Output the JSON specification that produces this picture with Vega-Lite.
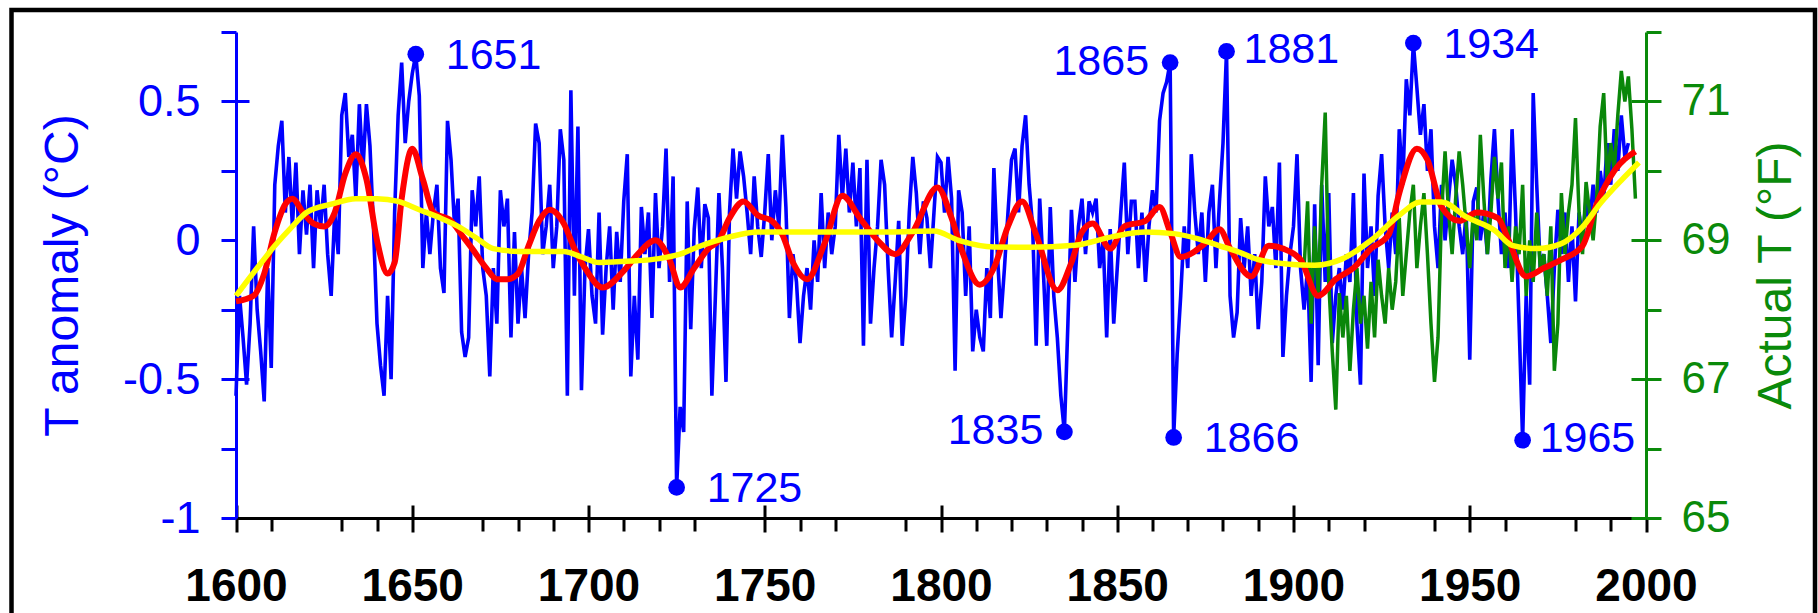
{
"$schema": "https://vega.github.io/schema/vega-lite/v6.json",
"width": 1803.5, "height": 620,
"autosize": {"type": "none"},
"padding": {"left": 11.5, "top": 10, "right": 3, "bottom": 0},
"background": "white",
"config": {"view": {"stroke": "black", "strokeWidth": 4.5, "fill": "white"}, "axis": {"grid": false}},
"datasets": {
"anom": [
{"year":1600,"anomaly":-0.56},{"year":1601,"anomaly":-0.20},{"year":1602,"anomaly":-0.35},{"year":1603,"anomaly":-0.52},{"year":1604,"anomaly":-0.30},{"year":1605,"anomaly":0.05},{"year":1606,"anomaly":-0.25},{"year":1607,"anomaly":-0.40},{"year":1608,"anomaly":-0.58},{"year":1609,"anomaly":-0.10},
{"year":1610,"anomaly":-0.46},{"year":1611,"anomaly":0.20},{"year":1612,"anomaly":0.34},{"year":1613,"anomaly":0.43},{"year":1614,"anomaly":0.10},{"year":1615,"anomaly":0.30},{"year":1616,"anomaly":0.05},{"year":1617,"anomaly":0.28},{"year":1618,"anomaly":-0.05},{"year":1619,"anomaly":0.18},
{"year":1620,"anomaly":0.02},{"year":1621,"anomaly":0.20},{"year":1622,"anomaly":-0.10},{"year":1623,"anomaly":0.18},{"year":1624,"anomaly":0.05},{"year":1625,"anomaly":0.20},{"year":1626,"anomaly":-0.05},{"year":1627,"anomaly":-0.20},{"year":1628,"anomaly":0.10},{"year":1629,"anomaly":-0.05},
{"year":1630,"anomaly":0.45},{"year":1631,"anomaly":0.53},{"year":1632,"anomaly":0.30},{"year":1633,"anomaly":0.38},{"year":1634,"anomaly":0.15},{"year":1635,"anomaly":0.49},{"year":1636,"anomaly":0.25},{"year":1637,"anomaly":0.49},{"year":1638,"anomaly":0.34},{"year":1639,"anomaly":0.05},
{"year":1640,"anomaly":-0.30},{"year":1641,"anomaly":-0.45},{"year":1642,"anomaly":-0.56},{"year":1643,"anomaly":-0.20},{"year":1644,"anomaly":-0.50},{"year":1645,"anomaly":0.10},{"year":1646,"anomaly":0.45},{"year":1647,"anomaly":0.64},{"year":1648,"anomaly":0.35},{"year":1649,"anomaly":0.50},
{"year":1650,"anomaly":0.60},{"year":1651,"anomaly":0.67},{"year":1652,"anomaly":0.52},{"year":1653,"anomaly":-0.10},{"year":1654,"anomaly":0.10},{"year":1655,"anomaly":-0.05},{"year":1656,"anomaly":0.10},{"year":1657,"anomaly":0.20},{"year":1658,"anomaly":-0.10},{"year":1659,"anomaly":-0.19},
{"year":1660,"anomaly":0.43},{"year":1661,"anomaly":0.29},{"year":1662,"anomaly":0.05},{"year":1663,"anomaly":0.15},{"year":1664,"anomaly":-0.33},{"year":1665,"anomaly":-0.42},{"year":1666,"anomaly":-0.35},{"year":1667,"anomaly":0.18},{"year":1668,"anomaly":0.05},{"year":1669,"anomaly":0.23},
{"year":1670,"anomaly":-0.10},{"year":1671,"anomaly":-0.20},{"year":1672,"anomaly":-0.49},{"year":1673,"anomaly":-0.10},{"year":1674,"anomaly":-0.30},{"year":1675,"anomaly":0.18},{"year":1676,"anomaly":0.05},{"year":1677,"anomaly":0.15},{"year":1678,"anomaly":-0.35},{"year":1679,"anomaly":0.03},
{"year":1680,"anomaly":-0.30},{"year":1681,"anomaly":-0.10},{"year":1682,"anomaly":-0.28},{"year":1683,"anomaly":-0.05},{"year":1684,"anomaly":0.10},{"year":1685,"anomaly":0.42},{"year":1686,"anomaly":0.35},{"year":1687,"anomaly":-0.05},{"year":1688,"anomaly":0.05},{"year":1689,"anomaly":0.20},
{"year":1690,"anomaly":-0.10},{"year":1691,"anomaly":0.05},{"year":1692,"anomaly":0.40},{"year":1693,"anomaly":0.29},{"year":1694,"anomaly":-0.56},{"year":1695,"anomaly":0.54},{"year":1696,"anomaly":-0.20},{"year":1697,"anomaly":0.41},{"year":1698,"anomaly":-0.54},{"year":1699,"anomaly":-0.10},
{"year":1700,"anomaly":0.04},{"year":1701,"anomaly":-0.20},{"year":1702,"anomaly":-0.30},{"year":1703,"anomaly":0.10},{"year":1704,"anomaly":-0.34},{"year":1705,"anomaly":-0.10},{"year":1706,"anomaly":0.05},{"year":1707,"anomaly":-0.25},{"year":1708,"anomaly":0.03},{"year":1709,"anomaly":-0.15},
{"year":1710,"anomaly":0.14},{"year":1711,"anomaly":0.31},{"year":1712,"anomaly":-0.49},{"year":1713,"anomaly":-0.20},{"year":1714,"anomaly":-0.43},{"year":1715,"anomaly":0.12},{"year":1716,"anomaly":-0.05},{"year":1717,"anomaly":0.10},{"year":1718,"anomaly":-0.28},{"year":1719,"anomaly":0.17},
{"year":1720,"anomaly":-0.10},{"year":1721,"anomaly":0.05},{"year":1722,"anomaly":0.33},{"year":1723,"anomaly":-0.15},{"year":1724,"anomaly":0.23},{"year":1725,"anomaly":-0.89},{"year":1726,"anomaly":-0.60},{"year":1727,"anomaly":-0.69},{"year":1728,"anomaly":0.14},{"year":1729,"anomaly":-0.32},
{"year":1730,"anomaly":0.04},{"year":1731,"anomaly":0.19},{"year":1732,"anomaly":-0.10},{"year":1733,"anomaly":0.13},{"year":1734,"anomaly":0.08},{"year":1735,"anomaly":-0.56},{"year":1736,"anomaly":-0.20},{"year":1737,"anomaly":0.17},{"year":1738,"anomaly":-0.10},{"year":1739,"anomaly":-0.51},
{"year":1740,"anomaly":0.10},{"year":1741,"anomaly":0.33},{"year":1742,"anomaly":0.15},{"year":1743,"anomaly":0.32},{"year":1744,"anomaly":0.23},{"year":1745,"anomaly":0.10},{"year":1746,"anomaly":-0.05},{"year":1747,"anomaly":0.23},{"year":1748,"anomaly":0.05},{"year":1749,"anomaly":-0.06},
{"year":1750,"anomaly":0.10},{"year":1751,"anomaly":0.31},{"year":1752,"anomaly":0.00},{"year":1753,"anomaly":0.18},{"year":1754,"anomaly":0.05},{"year":1755,"anomaly":0.38},{"year":1756,"anomaly":0.12},{"year":1757,"anomaly":-0.28},{"year":1758,"anomaly":-0.05},{"year":1759,"anomaly":-0.15},
{"year":1760,"anomaly":-0.37},{"year":1761,"anomaly":-0.20},{"year":1762,"anomaly":-0.10},{"year":1763,"anomaly":-0.25},{"year":1764,"anomaly":0.00},{"year":1765,"anomaly":-0.15},{"year":1766,"anomaly":0.17},{"year":1767,"anomaly":-0.10},{"year":1768,"anomaly":0.10},{"year":1769,"anomaly":-0.05},
{"year":1770,"anomaly":0.05},{"year":1771,"anomaly":0.38},{"year":1772,"anomaly":0.15},{"year":1773,"anomaly":0.33},{"year":1774,"anomaly":0.10},{"year":1775,"anomaly":0.28},{"year":1776,"anomaly":0.05},{"year":1777,"anomaly":0.26},{"year":1778,"anomaly":-0.38},{"year":1779,"anomaly":0.29},
{"year":1780,"anomaly":-0.30},{"year":1781,"anomaly":-0.10},{"year":1782,"anomaly":0.05},{"year":1783,"anomaly":0.29},{"year":1784,"anomaly":0.20},{"year":1785,"anomaly":-0.10},{"year":1786,"anomaly":-0.35},{"year":1787,"anomaly":-0.15},{"year":1788,"anomaly":0.07},{"year":1789,"anomaly":-0.38},
{"year":1790,"anomaly":-0.20},{"year":1791,"anomaly":0.10},{"year":1792,"anomaly":0.30},{"year":1793,"anomaly":0.17},{"year":1794,"anomaly":-0.05},{"year":1795,"anomaly":0.14},{"year":1796,"anomaly":0.08},{"year":1797,"anomaly":-0.10},{"year":1798,"anomaly":0.10},{"year":1799,"anomaly":0.30},
{"year":1800,"anomaly":0.28},{"year":1801,"anomaly":0.10},{"year":1802,"anomaly":0.30},{"year":1803,"anomaly":0.15},{"year":1804,"anomaly":-0.47},{"year":1805,"anomaly":0.18},{"year":1806,"anomaly":0.10},{"year":1807,"anomaly":-0.20},{"year":1808,"anomaly":0.05},{"year":1809,"anomaly":-0.40},
{"year":1810,"anomaly":-0.25},{"year":1811,"anomaly":-0.35},{"year":1812,"anomaly":-0.40},{"year":1813,"anomaly":-0.10},{"year":1814,"anomaly":-0.28},{"year":1815,"anomaly":0.26},{"year":1816,"anomaly":-0.05},{"year":1817,"anomaly":-0.28},{"year":1818,"anomaly":-0.10},{"year":1819,"anomaly":0.10},
{"year":1820,"anomaly":0.29},{"year":1821,"anomaly":0.33},{"year":1822,"anomaly":0.10},{"year":1823,"anomaly":0.34},{"year":1824,"anomaly":0.45},{"year":1825,"anomaly":0.20},{"year":1826,"anomaly":0.05},{"year":1827,"anomaly":-0.38},{"year":1828,"anomaly":0.15},{"year":1829,"anomaly":-0.10},
{"year":1830,"anomaly":-0.38},{"year":1831,"anomaly":0.12},{"year":1832,"anomaly":-0.20},{"year":1833,"anomaly":-0.35},{"year":1834,"anomaly":-0.56},{"year":1835,"anomaly":-0.69},{"year":1836,"anomaly":-0.30},{"year":1837,"anomaly":0.11},{"year":1838,"anomaly":-0.15},{"year":1839,"anomaly":0.05},
{"year":1840,"anomaly":0.15},{"year":1841,"anomaly":-0.05},{"year":1842,"anomaly":0.14},{"year":1843,"anomaly":0.10},{"year":1844,"anomaly":0.15},{"year":1845,"anomaly":-0.10},{"year":1846,"anomaly":0.00},{"year":1847,"anomaly":-0.35},{"year":1848,"anomaly":0.04},{"year":1849,"anomaly":-0.30},
{"year":1850,"anomaly":-0.10},{"year":1851,"anomaly":0.10},{"year":1852,"anomaly":0.28},{"year":1853,"anomaly":-0.05},{"year":1854,"anomaly":0.14},{"year":1855,"anomaly":0.14},{"year":1856,"anomaly":-0.10},{"year":1857,"anomaly":0.10},{"year":1858,"anomaly":-0.15},{"year":1859,"anomaly":0.05},
{"year":1860,"anomaly":0.18},{"year":1861,"anomaly":0.10},{"year":1862,"anomaly":0.43},{"year":1863,"anomaly":0.53},{"year":1864,"anomaly":0.57},{"year":1865,"anomaly":0.64},{"year":1866,"anomaly":-0.71},{"year":1867,"anomaly":-0.41},{"year":1868,"anomaly":-0.20},{"year":1869,"anomaly":0.05},
{"year":1870,"anomaly":-0.10},{"year":1871,"anomaly":0.31},{"year":1872,"anomaly":0.10},{"year":1873,"anomaly":-0.05},{"year":1874,"anomaly":0.10},{"year":1875,"anomaly":-0.15},{"year":1876,"anomaly":0.10},{"year":1877,"anomaly":0.20},{"year":1878,"anomaly":-0.10},{"year":1879,"anomaly":0.14},
{"year":1880,"anomaly":0.35},{"year":1881,"anomaly":0.68},{"year":1882,"anomaly":-0.20},{"year":1883,"anomaly":-0.35},{"year":1884,"anomaly":-0.26},{"year":1885,"anomaly":0.08},{"year":1886,"anomaly":-0.10},{"year":1887,"anomaly":0.05},{"year":1888,"anomaly":-0.20},{"year":1889,"anomaly":-0.05},
{"year":1890,"anomaly":-0.32},{"year":1891,"anomaly":-0.15},{"year":1892,"anomaly":0.23},{"year":1893,"anomaly":0.05},{"year":1894,"anomaly":0.12},{"year":1895,"anomaly":-0.10},{"year":1896,"anomaly":0.28},{"year":1897,"anomaly":-0.42},{"year":1898,"anomaly":-0.20},{"year":1899,"anomaly":-0.05},
{"year":1900,"anomaly":0.05},{"year":1901,"anomaly":0.31},{"year":1902,"anomaly":-0.10},{"year":1903,"anomaly":-0.25},{"year":1904,"anomaly":-0.10},{"year":1905,"anomaly":-0.51},{"year":1906,"anomaly":0.13},{"year":1907,"anomaly":-0.45},{"year":1908,"anomaly":0.20},{"year":1909,"anomaly":-0.15},
{"year":1910,"anomaly":0.17},{"year":1911,"anomaly":-0.37},{"year":1912,"anomaly":-0.20},{"year":1913,"anomaly":-0.10},{"year":1914,"anomaly":-0.25},{"year":1915,"anomaly":-0.05},{"year":1916,"anomaly":-0.15},{"year":1917,"anomaly":0.17},{"year":1918,"anomaly":-0.30},{"year":1919,"anomaly":-0.52},
{"year":1920,"anomaly":0.24},{"year":1921,"anomaly":-0.10},{"year":1922,"anomaly":0.05},{"year":1923,"anomaly":-0.20},{"year":1924,"anomaly":0.16},{"year":1925,"anomaly":0.31},{"year":1926,"anomaly":0.05},{"year":1927,"anomaly":-0.10},{"year":1928,"anomaly":0.10},{"year":1929,"anomaly":-0.05},
{"year":1930,"anomaly":0.40},{"year":1931,"anomaly":0.20},{"year":1932,"anomaly":0.58},{"year":1933,"anomaly":0.45},{"year":1934,"anomaly":0.71},{"year":1935,"anomaly":0.55},{"year":1936,"anomaly":0.38},{"year":1937,"anomaly":0.49},{"year":1938,"anomaly":0.25},{"year":1939,"anomaly":0.40},
{"year":1940,"anomaly":0.05},{"year":1941,"anomaly":-0.10},{"year":1942,"anomaly":0.20},{"year":1943,"anomaly":0.00},{"year":1944,"anomaly":0.15},{"year":1945,"anomaly":0.29},{"year":1946,"anomaly":0.20},{"year":1947,"anomaly":0.05},{"year":1948,"anomaly":-0.05},{"year":1949,"anomaly":0.10},
{"year":1950,"anomaly":-0.43},{"year":1951,"anomaly":0.14},{"year":1952,"anomaly":0.19},{"year":1953,"anomaly":0.00},{"year":1954,"anomaly":0.10},{"year":1955,"anomaly":-0.05},{"year":1956,"anomaly":0.22},{"year":1957,"anomaly":0.40},{"year":1958,"anomaly":0.15},{"year":1959,"anomaly":-0.05},
{"year":1960,"anomaly":0.10},{"year":1961,"anomaly":-0.10},{"year":1962,"anomaly":0.40},{"year":1963,"anomaly":0.10},{"year":1964,"anomaly":-0.30},{"year":1965,"anomaly":-0.72},{"year":1966,"anomaly":-0.20},{"year":1967,"anomaly":-0.52},{"year":1968,"anomaly":0.53},{"year":1969,"anomaly":0.20},
{"year":1970,"anomaly":-0.10},{"year":1971,"anomaly":-0.05},{"year":1972,"anomaly":-0.20},{"year":1973,"anomaly":-0.37},{"year":1974,"anomaly":-0.10},{"year":1975,"anomaly":0.11},{"year":1976,"anomaly":-0.05},{"year":1977,"anomaly":0.10},{"year":1978,"anomaly":-0.15},{"year":1979,"anomaly":0.05},
{"year":1980,"anomaly":-0.22},{"year":1981,"anomaly":0.10},{"year":1982,"anomaly":0.00},{"year":1983,"anomaly":0.15},{"year":1984,"anomaly":0.05},{"year":1985,"anomaly":0.20},{"year":1986,"anomaly":0.10},{"year":1987,"anomaly":0.25},{"year":1988,"anomaly":0.15},{"year":1989,"anomaly":0.35},
{"year":1990,"anomaly":0.20},{"year":1991,"anomaly":0.40},{"year":1992,"anomaly":0.25},{"year":1993,"anomaly":0.45},{"year":1994,"anomaly":0.30},{"year":1995,"anomaly":0.35}
],
"red": [
{"year":1600,"anomaly":-0.22},{"year":1605,"anomaly":-0.20},{"year":1608,"anomaly":-0.12},{"year":1611,"anomaly":0.03},{"year":1614,"anomaly":0.13},{"year":1616,"anomaly":0.15},{"year":1619,"anomaly":0.10},{"year":1622,"anomaly":0.06},{"year":1625,"anomaly":0.05},{"year":1628,"anomaly":0.10},{"year":1631,"anomaly":0.24},{"year":1634,"anomaly":0.31},{"year":1637,"anomaly":0.22},{"year":1640,"anomaly":0.00},{"year":1643,"anomaly":-0.12},{"year":1645,"anomaly":-0.08},{"year":1647,"anomaly":0.15},{"year":1650,"anomaly":0.33},{"year":1653,"anomaly":0.22},{"year":1656,"anomaly":0.10},{"year":1661,"anomaly":0.07},{"year":1664,"anomaly":0.02},{"year":1667,"anomaly":-0.03},{"year":1671,"anomaly":-0.10},{"year":1674,"anomaly":-0.14},{"year":1677,"anomaly":-0.14},{"year":1680,"anomaly":-0.12},{"year":1683,"anomaly":-0.02},{"year":1686,"anomaly":0.07},{"year":1689,"anomaly":0.11},{"year":1693,"anomaly":0.06},{"year":1696,"anomaly":-0.03},{"year":1699,"anomaly":-0.10},{"year":1704,"anomaly":-0.17},{"year":1710,"anomaly":-0.11},{"year":1714,"anomaly":-0.05},{"year":1719,"anomaly":0.00},{"year":1723,"anomaly":-0.07},{"year":1726,"anomaly":-0.17},{"year":1730,"anomaly":-0.10},{"year":1734,"anomaly":-0.03},{"year":1737,"anomaly":0.00},{"year":1740,"anomaly":0.08},{"year":1744,"anomaly":0.14},{"year":1748,"anomaly":0.09},{"year":1752,"anomaly":0.07},{"year":1755,"anomaly":0.02},{"year":1758,"anomaly":-0.08},{"year":1762,"anomaly":-0.14},{"year":1767,"anomaly":-0.01},{"year":1772,"anomaly":0.16},{"year":1777,"anomaly":0.08},{"year":1782,"anomaly":0.00},{"year":1787,"anomaly":-0.05},{"year":1792,"anomaly":0.03},{"year":1799,"anomaly":0.19},{"year":1803,"anomaly":0.08},{"year":1806,"anomaly":-0.04},{"year":1811,"anomaly":-0.16},{"year":1815,"anomaly":-0.10},{"year":1819,"anomaly":0.05},{"year":1823,"anomaly":0.14},{"year":1827,"anomaly":0.02},{"year":1833,"anomaly":-0.18},{"year":1837,"anomaly":-0.08},{"year":1840,"anomaly":0.03},{"year":1843,"anomaly":0.06},{"year":1848,"anomaly":-0.03},{"year":1852,"anomaly":0.05},{"year":1858,"anomaly":0.07},{"year":1862,"anomaly":0.12},{"year":1865,"anomaly":0.03},{"year":1868,"anomaly":-0.06},{"year":1875,"anomaly":-0.01},{"year":1879,"anomaly":0.04},{"year":1882,"anomaly":-0.03},{"year":1888,"anomaly":-0.13},{"year":1893,"anomaly":-0.02},{"year":1897,"anomaly":-0.03},{"year":1902,"anomaly":-0.07},{"year":1907,"anomaly":-0.20},{"year":1912,"anomaly":-0.14},{"year":1917,"anomaly":-0.10},{"year":1922,"anomaly":-0.03},{"year":1927,"anomaly":0.02},{"year":1930,"anomaly":0.17},{"year":1935,"anomaly":0.33},{"year":1938,"anomaly":0.29},{"year":1942,"anomaly":0.12},{"year":1947,"anomaly":0.07},{"year":1952,"anomaly":0.10},{"year":1958,"anomaly":0.08},{"year":1961,"anomaly":0.00},{"year":1966,"anomaly":-0.13},{"year":1971,"anomaly":-0.10},{"year":1976,"anomaly":-0.07},{"year":1982,"anomaly":-0.02},{"year":1986,"anomaly":0.13},{"year":1991,"anomaly":0.25},{"year":1997,"anomaly":0.32}
],
"yellow": [
{"year":1600,"anomaly":-0.20},{"year":1606,"anomaly":-0.10},{"year":1611,"anomaly":-0.02},{"year":1616,"anomaly":0.05},{"year":1620,"anomaly":0.10},{"year":1627,"anomaly":0.13},{"year":1634,"anomaly":0.15},{"year":1640,"anomaly":0.15},{"year":1646,"anomaly":0.14},{"year":1652,"anomaly":0.11},{"year":1658,"anomaly":0.08},{"year":1663,"anomaly":0.05},{"year":1668,"anomaly":0.01},{"year":1673,"anomaly":-0.03},{"year":1680,"anomaly":-0.04},{"year":1687,"anomaly":-0.04},{"year":1693,"anomaly":-0.04},{"year":1698,"anomaly":-0.06},{"year":1703,"anomaly":-0.08},{"year":1712,"anomaly":-0.075},{"year":1720,"anomaly":-0.066},{"year":1726,"anomaly":-0.05},{"year":1731,"anomaly":-0.024},{"year":1740,"anomaly":0.012},{"year":1748,"anomaly":0.03},{"year":1760,"anomaly":0.03},{"year":1770,"anomaly":0.03},{"year":1785,"anomaly":0.03},{"year":1798,"anomaly":0.033},{"year":1805,"anomaly":0.0},{"year":1815,"anomaly":-0.024},{"year":1825,"anomaly":-0.025},{"year":1838,"anomaly":-0.018},{"year":1849,"anomaly":0.014},{"year":1858,"anomaly":0.03},{"year":1866,"anomaly":0.024},{"year":1873,"anomaly":0.005},{"year":1879,"anomaly":-0.02},{"year":1884,"anomaly":-0.04},{"year":1890,"anomaly":-0.07},{"year":1898,"anomaly":-0.085},{"year":1906,"anomaly":-0.09},{"year":1914,"anomaly":-0.066},{"year":1922,"anomaly":0.0},{"year":1930,"anomaly":0.09},{"year":1936,"anomaly":0.138},{"year":1942,"anomaly":0.138},{"year":1949,"anomaly":0.084},{"year":1957,"anomaly":0.036},{"year":1962,"anomaly":-0.018},{"year":1969,"anomaly":-0.03},{"year":1976,"anomaly":-0.012},{"year":1982,"anomaly":0.048},{"year":1987,"anomaly":0.132},{"year":1993,"anomaly":0.216},{"year":1998,"anomaly":0.28}
],
"green": [
{"year":1903,"tempF":68.6},{"year":1904,"tempF":69.56},{"year":1905,"tempF":67.8},{"year":1906,"tempF":69.2},{"year":1907,"tempF":68.2},{"year":1908,"tempF":69.8},{"year":1909,"tempF":70.84},{"year":1910,"tempF":68.4},{"year":1911,"tempF":67.4},{"year":1912,"tempF":66.56},{"year":1913,"tempF":68.24},{"year":1914,"tempF":67.6},{"year":1915,"tempF":68.2},{"year":1916,"tempF":67.12},{"year":1917,"tempF":68.0},{"year":1918,"tempF":68.6},{"year":1919,"tempF":67.8},{"year":1920,"tempF":68.2},{"year":1921,"tempF":67.44},{"year":1922,"tempF":68.4},{"year":1923,"tempF":67.6},{"year":1924,"tempF":68.72},{"year":1925,"tempF":68.2},{"year":1926,"tempF":67.8},{"year":1927,"tempF":68.6},{"year":1928,"tempF":68.0},{"year":1929,"tempF":68.4},{"year":1930,"tempF":69.32},{"year":1931,"tempF":68.2},{"year":1932,"tempF":68.8},{"year":1933,"tempF":69.4},{"year":1934,"tempF":69.8},{"year":1935,"tempF":68.6},{"year":1936,"tempF":69.2},{"year":1937,"tempF":69.68},{"year":1938,"tempF":68.8},{"year":1939,"tempF":67.8},{"year":1940,"tempF":66.96},{"year":1941,"tempF":67.6},{"year":1942,"tempF":69.4},{"year":1943,"tempF":70.28},{"year":1944,"tempF":69.4},{"year":1945,"tempF":68.8},{"year":1946,"tempF":69.6},{"year":1947,"tempF":70.28},{"year":1948,"tempF":69.8},{"year":1949,"tempF":69.2},{"year":1950,"tempF":68.6},{"year":1951,"tempF":69.4},{"year":1952,"tempF":69.0},{"year":1953,"tempF":70.52},{"year":1954,"tempF":69.6},{"year":1955,"tempF":68.8},{"year":1956,"tempF":69.4},{"year":1957,"tempF":70.2},{"year":1958,"tempF":69.6},{"year":1959,"tempF":70.12},{"year":1960,"tempF":68.6},{"year":1961,"tempF":69.2},{"year":1962,"tempF":68.4},{"year":1963,"tempF":69.2},{"year":1964,"tempF":68.8},{"year":1965,"tempF":69.8},{"year":1966,"tempF":68.2},{"year":1967,"tempF":69.0},{"year":1968,"tempF":68.4},{"year":1969,"tempF":69.4},{"year":1970,"tempF":68.6},{"year":1971,"tempF":68.8},{"year":1972,"tempF":68.2},{"year":1973,"tempF":69.2},{"year":1974,"tempF":67.12},{"year":1975,"tempF":67.8},{"year":1976,"tempF":69.68},{"year":1977,"tempF":68.8},{"year":1978,"tempF":69.4},{"year":1979,"tempF":69.8},{"year":1980,"tempF":70.76},{"year":1981,"tempF":69.4},{"year":1982,"tempF":68.8},{"year":1983,"tempF":69.84},{"year":1984,"tempF":69.4},{"year":1985,"tempF":69.0},{"year":1986,"tempF":69.6},{"year":1987,"tempF":70.64},{"year":1988,"tempF":71.12},{"year":1989,"tempF":69.8},{"year":1990,"tempF":70.4},{"year":1991,"tempF":70.0},{"year":1992,"tempF":70.8},{"year":1993,"tempF":71.44},{"year":1994,"tempF":71.0},{"year":1995,"tempF":71.36},{"year":1996,"tempF":70.6},{"year":1997,"tempF":69.6}
]
},
"layer": [
{
"data": {"name": "anom"},
"mark": {"type": "line", "color": "#0000ff", "strokeWidth": 3.6},
"encoding": {
"x": {"field": "year", "type": "quantitative", "scale": {"domain": [1600, 2000], "range": [224.5, 1634.5], "nice": false, "zero": false},
 "axis": {"orient": "bottom", "offset": -112, "values": [1600,1650,1700,1750,1800,1850,1900,1950,2000], "format": "d", "tickSize": 14, "tickWidth": 3, "tickColor": "black", "domainColor": "black", "domainWidth": 3, "labelFont": "Liberation Sans", "labelFontSize": 46, "labelFontWeight": "bold", "labelColor": "black", "labelPadding": 32, "labelFlush": false, "labelOverlap": false, "title": null}},
"y": {"field": "anomaly", "type": "quantitative", "scale": {"domain": [-1, 0.75], "range": [508, 22], "nice": false, "zero": false},
 "axis": {"orient": "left", "offset": -224.5, "values": [-1,-0.75,-0.5,-0.25,0,0.25,0.5,0.75], "labelExpr": "datum.value == 0.5 ? '0.5' : datum.value == 0 ? '0' : datum.value == -0.5 ? '-0.5' : datum.value == -1 ? '-1' : ''", "tickSize": 15, "tickWidth": 3, "tickColor": "#0000ff", "domainColor": "#0000ff", "domainWidth": 3, "labelFont": "Liberation Sans", "labelFontSize": 45, "labelColor": "#0000ff", "labelPadding": 21, "labelFlush": false, "labelOverlap": false, "title": "T anomaly (°C)", "titleFont": "Liberation Sans", "titleFontSize": 48, "titleFontWeight": "normal", "titleColor": "#0000ff", "titleAngle": -90, "titleX": -159, "titleBaseline": "alphabetic"}}
}
},
{
"data": {"name": "green"},
"mark": {"type": "line", "color": "#0a870a", "strokeWidth": 3.5},
"encoding": {
"x": {"field": "year", "type": "quantitative", "scale": {"domain": [1600, 2000], "range": [224.5, 1634.5], "nice": false, "zero": false}, "axis": null},
"y": {"field": "tempF", "type": "quantitative", "scale": {"domain": [65, 72], "range": [508, 22], "nice": false, "zero": false},
 "axis": {"orient": "right", "offset": -169, "values": [65,66,67,68,69,70,71,72], "labelExpr": "datum.value % 2 == 1 ? datum.label : ''", "tickSize": 15, "tickWidth": 3, "tickColor": "#0a8a0a", "domainColor": "#0a8a0a", "domainWidth": 3, "labelFont": "Liberation Sans", "labelFontSize": 44, "labelColor": "#0a8a0a", "labelPadding": 20, "labelFlush": false, "labelOverlap": false, "title": "Actual T (°F)", "titleFont": "Liberation Sans", "titleFontSize": 48, "titleFontWeight": "normal", "titleColor": "#0a8a0a", "titleAngle": -90, "titleX": 144, "titleBaseline": "alphabetic"}}
}
},
{
"data": {"name": "green"},
"mark": {"type": "line", "color": "#0a8a0a", "strokeWidth": 1, "opacity": 0},
"encoding": {
"x": {"field": "year", "type": "quantitative", "scale": {"domain": [1600, 2000], "range": [224.5, 1634.5], "nice": false, "zero": false}, "axis": null},
"y": {"field": "tempF", "type": "quantitative", "scale": {"domain": [65, 72], "range": [508, 22], "nice": false, "zero": false},
 "axis": {"orient": "right", "offset": -184, "values": [65,67,69,71], "labels": false, "domain": false, "tickSize": 15, "tickWidth": 3, "tickColor": "#0a8a0a", "title": null}}
}
},
{
"mark": {"type": "rule", "color": "black", "strokeWidth": 3},
"encoding": {
"x": {"datum": 1600, "type": "quantitative", "scale": {"domain": [1600, 2000], "range": [224.5, 1634.5], "nice": false, "zero": false}, "axis": null},
"x2": {"datum": 1996},
"y": {"datum": 0, "type": "quantitative", "scale": {"domain": [-1, 0.75], "range": [508, 22], "nice": false, "zero": false}, "axis": null}
}
},
{
"data": {"name": "red"},
"mark": {"type": "line", "color": "#ff0000", "strokeWidth": 6, "interpolate": "monotone"},
"encoding": {
"x": {"field": "year", "type": "quantitative", "scale": {"domain": [1600, 2000], "range": [224.5, 1634.5], "nice": false, "zero": false},
 "axis": {"orient": "bottom", "offset": -112, "values": [1610,1630,1640,1670,1680,1690,1710,1720,1730,1760,1770,1790,1810,1820,1830,1840,1860,1870,1880,1890,1910,1920,1940,1960,1980,1990], "labels": false, "domain": false, "tickSize": 13, "tickWidth": 3, "tickColor": "black", "title": null}},
"y": {"field": "anomaly", "type": "quantitative", "scale": {"domain": [-1, 0.75], "range": [508, 22], "nice": false, "zero": false},
 "axis": {"orient": "left", "offset": -237.5, "values": [0.5, -0.5], "labels": false, "domain": false, "tickSize": 13, "tickWidth": 3, "tickColor": "#0000ff", "title": null}}
}
},
{
"data": {"name": "yellow"},
"mark": {"type": "line", "color": "#ffff00", "strokeWidth": 5.5, "interpolate": "monotone"},
"encoding": {
"x": {"field": "year", "type": "quantitative", "scale": {"domain": [1600, 2000], "range": [224.5, 1634.5], "nice": false, "zero": false},
 "axis": {"orient": "bottom", "offset": -125, "values": [1600,1650,1700,1750,1800,1850,1900,1950], "labels": false, "domain": false, "tickSize": 13, "tickWidth": 3, "tickColor": "black", "title": null}},
"y": {"field": "anomaly", "type": "quantitative", "scale": {"domain": [-1, 0.75], "range": [508, 22], "nice": false, "zero": false}, "axis": null}
}
},
{
"data": {"name": "anom"},
"transform": [{"filter": {"field": "year", "oneOf": [1651, 1725, 1835, 1865, 1866, 1881, 1934, 1965]}}],
"mark": {"type": "circle", "color": "#0000ff", "size": 280, "opacity": 1},
"encoding": {
"x": {"field": "year", "type": "quantitative", "scale": {"domain": [1600, 2000], "range": [224.5, 1634.5], "nice": false, "zero": false}, "axis": null},
"y": {"field": "anomaly", "type": "quantitative", "scale": {"domain": [-1, 0.75], "range": [508, 22], "nice": false, "zero": false}, "axis": null}
}
},
{
"data": {"name": "anom"},
"transform": [{"filter": {"field": "year", "oneOf": [1651, 1725, 1866, 1934]}}],
"mark": {"type": "text", "color": "#0000ff", "align": "left", "baseline": "middle", "dx": 30, "dy": 2, "font": "Liberation Sans", "fontSize": 43},
"encoding": {
"x": {"field": "year", "type": "quantitative", "scale": {"domain": [1600, 2000], "range": [224.5, 1634.5], "nice": false, "zero": false}, "axis": null},
"y": {"field": "anomaly", "type": "quantitative", "scale": {"domain": [-1, 0.75], "range": [508, 22], "nice": false, "zero": false}, "axis": null},
"text": {"field": "year", "type": "nominal"}
}
},
{
"data": {"name": "anom"},
"transform": [{"filter": {"field": "year", "oneOf": [1881, 1965]}}],
"mark": {"type": "text", "color": "#0000ff", "align": "left", "baseline": "middle", "dx": 17, "dy": -1, "font": "Liberation Sans", "fontSize": 43},
"encoding": {
"x": {"field": "year", "type": "quantitative", "scale": {"domain": [1600, 2000], "range": [224.5, 1634.5], "nice": false, "zero": false}, "axis": null},
"y": {"field": "anomaly", "type": "quantitative", "scale": {"domain": [-1, 0.75], "range": [508, 22], "nice": false, "zero": false}, "axis": null},
"text": {"field": "year", "type": "nominal"}
}
},
{
"data": {"name": "anom"},
"transform": [{"filter": {"field": "year", "oneOf": [1835, 1865]}}],
"mark": {"type": "text", "color": "#0000ff", "align": "right", "baseline": "middle", "dx": -21, "dy": -1, "font": "Liberation Sans", "fontSize": 43},
"encoding": {
"x": {"field": "year", "type": "quantitative", "scale": {"domain": [1600, 2000], "range": [224.5, 1634.5], "nice": false, "zero": false}, "axis": null},
"y": {"field": "anomaly", "type": "quantitative", "scale": {"domain": [-1, 0.75], "range": [508, 22], "nice": false, "zero": false}, "axis": null},
"text": {"field": "year", "type": "nominal"}
}
}
],
"resolve": {"scale": {"y": "independent"}, "axis": {"x": "independent", "y": "independent"}}
}
